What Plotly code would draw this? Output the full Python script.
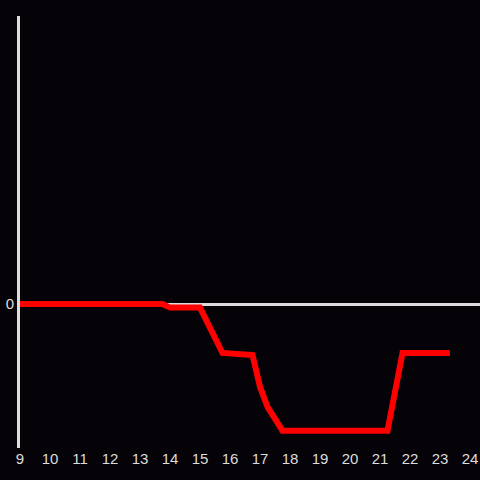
import plotly.graph_objects as go

hours = [9, 13.75, 14, 15, 15.75, 16.75, 17, 17.25, 17.75, 21.25, 21.75, 23.33]
values = [0, 0, -0.025, -0.025, -0.34, -0.355, -0.575, -0.715, -0.88, -0.88, -0.34, -0.34]
x_ticks = list(range(9, 25))

fig = go.Figure()
fig.add_trace(go.Scatter(x=hours, y=values, mode="lines",
                         line=dict(color="#ff0000", width=6)))

fig.update_layout(
    width=480, height=480,
    margin=dict(l=20, r=0, t=16, b=32),
    paper_bgcolor="#050307", plot_bgcolor="#050307",
    showlegend=False,
    font=dict(family="Liberation Sans, Arial, sans-serif", size=15, color="#dddddd"),
    xaxis=dict(range=[9, 24.333], tickvals=x_ticks, showgrid=False, zeroline=False,
               showline=False, ticks="", ticklen=0),
    yaxis=dict(range=[-1, 2], tickvals=[0], showgrid=False, zeroline=True,
               zerolinecolor="#dddddd", zerolinewidth=3,
               showline=True, linecolor="#dddddd", linewidth=3, ticks=""),
)
fig.write_html("out.html", config={"displayModeBar": False},
               post_script="document.body.style.margin='0';document.body.style.background='#050307';")
